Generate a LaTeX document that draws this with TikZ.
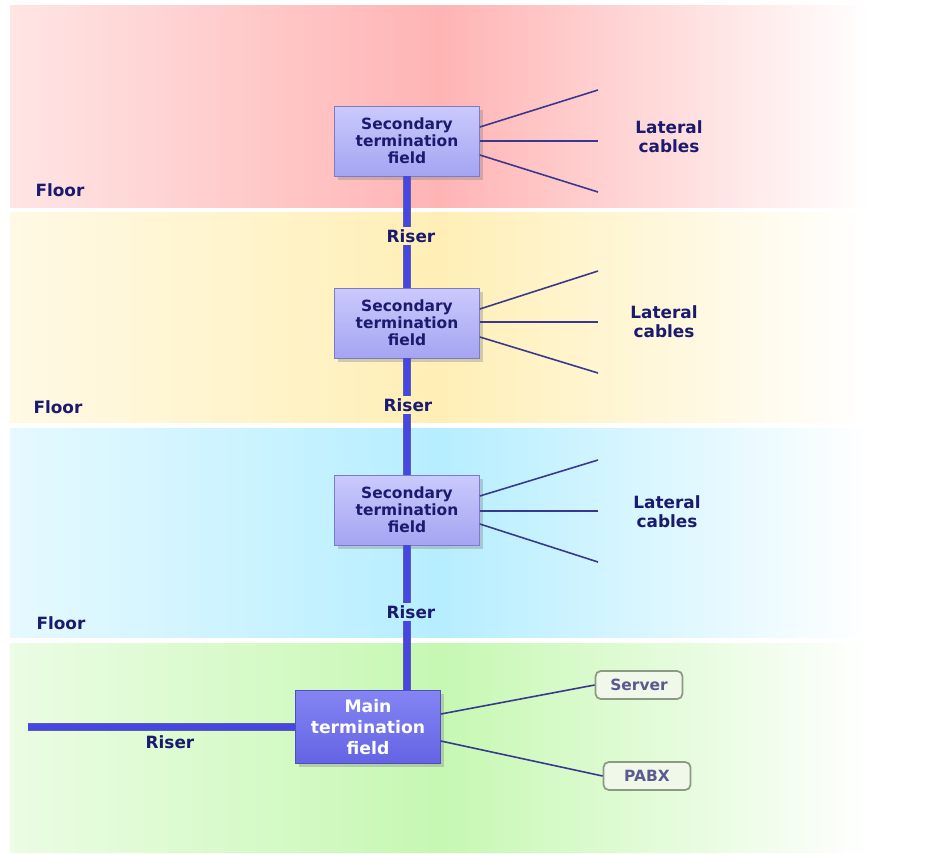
\documentclass[tikz,border=0pt]{standalone}
\usepackage{fontspec}
\setmainfont{DejaVu Sans}
\usepackage{xcolor}
\usetikzlibrary{positioning, shadows}

\definecolor{navy}{HTML}{1A1A6E}
\definecolor{fieldtop}{HTML}{CACAFD}
\definecolor{fieldbot}{HTML}{A4A4F2}
\definecolor{maintop}{HTML}{8484F4}
\definecolor{mainbot}{HTML}{6464E4}
\definecolor{riserblue}{HTML}{4646E2}
\definecolor{cableblue}{HTML}{38388E}
\definecolor{devfill}{HTML}{F0F8EA}
\definecolor{devline}{HTML}{8C9A84}
\definecolor{devtext}{HTML}{5A5A8E}
\definecolor{floorred}{HTML}{FFB4B4}
\definecolor{flooryel}{HTML}{FFEFB6}
\definecolor{floorcyan}{HTML}{B6EEFF}
\definecolor{floorgrn}{HTML}{C6F8B2}

\begin{document}
\begin{tikzpicture}[x=0.02cm, y=-0.02cm,
    lbl/.style={text=navy, font=\fontsize{9.6}{11}\selectfont\bfseries, align=center},
    field/.style={draw=fieldbot!70!navy, top color=fieldtop, bottom color=fieldbot,
        minimum width=2.9cm, minimum height=1.4cm, align=center, text=navy,
        font=\fontsize{8.8}{9.6}\selectfont\bfseries, drop shadow={opacity=0.35, shadow xshift=2pt, shadow yshift=-2pt}},
    mainfield/.style={field, top color=maintop, bottom color=mainbot, draw=mainbot!70!navy,
        text=white, minimum height=1.46cm, font=\fontsize{9.8}{12}\selectfont\bfseries},
    device/.style={draw=devline, line width=1pt, fill=devfill, rounded corners=3pt,
        minimum width=1.74cm, minimum height=0.56cm, text=devtext,
        font=\fontsize{8.8}{10}\selectfont\bfseries},
    riser/.style={draw=navy!70, double=riserblue, double distance=3pt, line width=0.55pt},
    cable/.style={draw=cableblue, line width=0.9pt},
    floor/.style={left color=#1!35, right color=white, middle color=#1}]

\useasboundingbox (0,0) rectangle (926,853);

% floors
\shade[floor=floorred]   (10,5)   rectangle (870,207);
\shade[floor=flooryel]   (10,212) rectangle (870,422);
\shade[floor=floorcyan]  (10,428) rectangle (870,637);
\shade[floor=floorgrn]   (10,643) rectangle (870,852);

% termination fields
\node[field] (sec1) at (407,141) {Secondary\\termination\\field};
\node[field] (sec2) at (407,323) {Secondary\\termination\\field};
\node[field] (sec3) at (407,510) {Secondary\\termination\\field};
\node[mainfield] (main) at (368,727) {Main\\termination\\field};

\node[device] (server) at (639,685) {Server};
\node[device] (pabx)   at (647,776) {PABX};

% labels
\node[lbl] (floor1) at (60,190) {Floor};
\node[lbl] (floor2) at (58,407) {Floor};
\node[lbl] (floor3) at (61,623) {Floor};
\node[lbl] (lat1) at (669,137) {Lateral\\cables};
\node[lbl] (lat2) at (664,322) {Lateral\\cables};
\node[lbl] (lat3) at (667,512) {Lateral\\cables};
\node[lbl, inner sep=1pt] (rsr1) at (411,236) {Riser};
\node[lbl, inner sep=1pt] (rsr2) at (408,405) {Riser};
\node[lbl, inner sep=1pt] (rsr3) at (411,612) {Riser};
\node[lbl] (rsr4) at (170,742) {Riser};

% risers
\draw[riser] (sec1.south) -- (rsr1.north -| sec1.south);
\draw[riser] (rsr1.south -| sec1.south) -- (sec2.north);
\draw[riser] (sec2.south) -- (rsr2.north -| sec2.south);
\draw[riser] (rsr2.south -| sec2.south) -- (sec3.north);
\draw[riser] (sec3.south) -- (rsr3.north -| sec3.south);
\draw[riser] (rsr3.south -| sec3.south) -- (main.north -| sec3.south);
\coordinate (feed) at (28,727);
\draw[riser] (feed) -- (feed -| main.west);

% lateral cables
\foreach \n/\y in {1/141, 2/322, 3/511} {
  \coordinate (c\n a) at (598,\y-51);
  \coordinate (c\n b) at (598,\y);
  \coordinate (c\n c) at (598,\y+51);
  \draw[cable] ([yshift=0.28cm]sec\n.east) -- (c\n a);
  \draw[cable] (sec\n.east |- c\n b) -- (c\n b);
  \draw[cable] ([yshift=-0.28cm]sec\n.east) -- (c\n c);
}

% devices
\draw[cable] ([yshift=0.26cm]main.east) -- (server.west);
\draw[cable] ([yshift=-0.28cm]main.east) -- (pabx.west);

\end{tikzpicture}
\end{document}
